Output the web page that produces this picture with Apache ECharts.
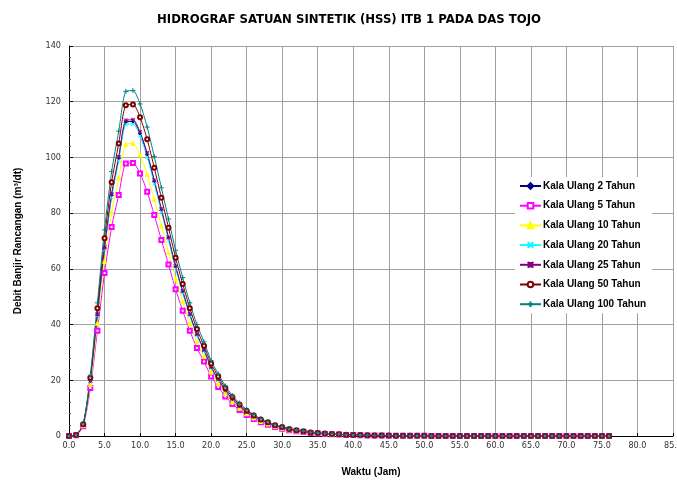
<!DOCTYPE html>
<html>
<head>
<meta charset="utf-8">
<script src="https://cdn.jsdelivr.net/npm/echarts@6/dist/echarts.min.js"></script>
<style>
  html, body { margin: 0; padding: 0; background: #fff; }
  #chart { width: 677px; height: 480px; }
</style>
</head>
<body>
<div id="chart"></div>
<script>
// waktu (jam)
const times = [0, 1, 2, 3, 4, 5, 6, 7, 8, 9, 10, 11, 12, 13, 14, 15, 16, 17, 18, 19,
  20, 21, 22, 23, 24, 25, 26, 27, 28, 29, 30, 31, 32, 33, 34, 35, 36, 37, 38, 39,
  40, 41, 42, 43, 44, 45, 46, 47, 48, 49, 50, 51, 52, 53, 54, 55, 56, 57, 58, 59,
  60, 61, 62, 63, 64, 65, 66, 67, 68, 69, 70, 71, 72, 73, 74, 75, 76]

// ekor hidrograf (jam 50 - 76), hampir nol
const tail = [0.05, 0.04, 0.04, 0.03, 0.03, 0.03, 0.02, 0.02, 0.02, 0.02, 0.01, 0.01, 0.01, 0.01,
  0.01, 0.01, 0.01, 0, 0, 0, 0, 0, 0, 0, 0, 0, 0]

const q2 = [0, 0.35, 4.0, 19.8, 43.5, 67.4, 86.4, 99.6, 112.7, 112.9,
  108.5, 101.0, 91.4, 81.1, 71.0, 60.7, 51.8, 43.5, 36.4, 30.8,
  24.7, 20.3, 16.4, 13.2, 10.7, 8.6, 7.0, 5.6, 4.6, 3.7,
  3.0, 2.4, 2.0, 1.6, 1.3, 1.0, 0.86, 0.69, 0.58, 0.46,
  0.38, 0.31, 0.25, 0.21, 0.17, 0.14, 0.12, 0.09, 0.08, 0.06].concat(tail)

const q5 = [0, 0.3, 3.5, 17.2, 37.8, 58.5, 75.0, 86.5, 97.8, 98.0,
  94.2, 87.7, 79.3, 70.4, 61.6, 52.7, 45.0, 37.8, 31.6, 26.7,
  21.4, 17.6, 14.2, 11.5, 9.3, 7.5, 6.1, 4.9, 4.0, 3.2,
  2.6, 2.1, 1.7, 1.4, 1.1, 0.9, 0.75, 0.6, 0.5, 0.4,
  0.33, 0.27, 0.22, 0.18, 0.15, 0.12, 0.1, 0.08, 0.07, 0.05].concat(tail)

const q10 = [0, 0.32, 3.7, 18.4, 40.5, 62.7, 80.3, 92.6, 104.7, 105.0,
  100.9, 93.9, 84.9, 75.4, 66.0, 56.4, 48.2, 40.5, 33.8, 28.6,
  22.9, 18.8, 15.2, 12.3, 10.0, 8.0, 6.5, 5.2, 4.3, 3.4,
  2.8, 2.2, 1.8, 1.5, 1.2, 0.96, 0.8, 0.64, 0.54, 0.43,
  0.35, 0.29, 0.24, 0.19, 0.16, 0.13, 0.11, 0.09, 0.07, 0.05].concat(tail)

const q20 = [0, 0.34, 4.0, 19.7, 43.2, 66.9, 85.7, 98.9, 111.8, 112.0,
  107.7, 100.2, 90.6, 80.5, 70.4, 60.2, 51.4, 43.2, 36.1, 30.5,
  24.5, 20.1, 16.2, 13.1, 10.6, 8.6, 7.0, 5.6, 4.6, 3.7,
  3.0, 2.4, 1.9, 1.6, 1.3, 1.0, 0.86, 0.69, 0.57, 0.46,
  0.38, 0.31, 0.25, 0.21, 0.17, 0.14, 0.11, 0.09, 0.08, 0.06].concat(tail)

const q25 = [0, 0.35, 4.1, 19.9, 43.8, 67.7, 86.9, 100.2, 113.3, 113.5,
  109.1, 101.6, 91.8, 81.5, 71.3, 61.0, 52.1, 43.8, 36.6, 30.9,
  24.8, 20.4, 16.4, 13.3, 10.8, 8.7, 7.1, 5.7, 4.6, 3.7,
  3.0, 2.4, 2.0, 1.6, 1.3, 1.0, 0.87, 0.69, 0.58, 0.46,
  0.38, 0.31, 0.25, 0.21, 0.17, 0.14, 0.12, 0.09, 0.08, 0.06].concat(tail)

const q50 = [0, 0.4, 4.2, 20.9, 45.9, 71.0, 91.1, 105.0, 118.7, 119.0,
  114.4, 106.5, 96.3, 85.5, 74.8, 64.0, 54.6, 45.9, 38.4, 32.4,
  26.0, 21.4, 17.2, 14.0, 11.3, 9.1, 7.4, 5.9, 4.9, 3.9,
  3.2, 2.5, 2.1, 1.7, 1.3, 1.1, 0.91, 0.73, 0.61, 0.49,
  0.4, 0.33, 0.27, 0.22, 0.18, 0.15, 0.12, 0.1, 0.08, 0.06].concat(tail)

const q100 = [0, 0.4, 4.4, 21.8, 47.8, 74.0, 94.9, 109.4, 123.7, 124.0,
  119.2, 110.9, 100.3, 89.1, 77.9, 66.7, 56.9, 47.8, 40.0, 33.8,
  27.1, 22.3, 18.0, 14.5, 11.8, 9.5, 7.7, 6.2, 5.1, 4.0,
  3.3, 2.7, 2.2, 1.8, 1.4, 1.1, 0.95, 0.76, 0.63, 0.51,
  0.42, 0.34, 0.28, 0.23, 0.19, 0.15, 0.13, 0.1, 0.09, 0.06].concat(tail)

const names = ['Kala Ulang 2 Tahun', 'Kala Ulang 5 Tahun', 'Kala Ulang 10 Tahun',
  'Kala Ulang 20 Tahun', 'Kala Ulang 25 Tahun', 'Kala Ulang 50 Tahun', 'Kala Ulang 100 Tahun']
const values = [q2, q5, q10, q20, q25, q50, q100]
const colors = ['#000080', '#ff00ff', '#ffff00', '#00ffff', '#800080', '#800000', '#008080']
const symbols = [
  'diamond',
  'emptyRect',
  'triangle',
  'path://M0,0L10,10M10,0L0,10',
  'path://M5,0L5,10M0,0L10,10M10,0L0,10M0,5L10,5',
  'emptyCircle',
  'path://M5,0L5,10M0,5L10,5'
]
const sizes = [3, 4, 4, 4, 4, 4, 5]

const narrow = "'DejaVu Sans Condensed', 'Liberation Sans Narrow', 'Liberation Sans', Arial, sans-serif"

const chart = echarts.init(document.getElementById('chart'))

chart.setOption({
  animation: false,
  title: {
    text: 'HIDROGRAF SATUAN SINTETIK (HSS) ITB 1 PADA DAS TOJO',
    left: 344,
    textAlign: 'center',
    top: 8,
    textStyle: {fontFamily: narrow, fontWeight: 'bold', fontSize: 13, color: '#000'}
  },
  legend: {
    orient: 'vertical',
    left: 515,
    top: 177,
    width: 132,
    backgroundColor: '#fff',
    padding: [3, 6, 3, 4],
    itemWidth: 21,
    itemHeight: 7,
    itemGap: 7.7,
    textStyle: {fontFamily: 'Arial, "Liberation Sans", sans-serif', fontWeight: 'bold', fontSize: 10,
      lineHeight: 12, color: '#000', padding: [0, 0, 0, -3]},
    data: names
  },
  grid: {left: 69, right: 4, top: 46, bottom: 44, outerBoundsMode: 'none'},
  xAxis: {
    type: 'value',
    min: 0,
    max: 85,
    interval: 5,
    name: 'Waktu (Jam)',
    nameLocation: 'middle',
    nameGap: 31,
    nameTextStyle: {fontFamily: 'Arial, sans-serif', fontWeight: 'bold', fontSize: 10, color: '#000'},
    axisLine: {show: true, onZero: false, lineStyle: {color: '#000', width: 1}},
    axisTick: {show: true, inside: true, length: 3, lineStyle: {color: '#000'}},
    axisLabel: {fontFamily: narrow, fontSize: 9, color: '#333', margin: 5,
      formatter: v => v.toFixed(1)},
    splitLine: {show: true, lineStyle: {color: '#a0a0a0', width: 1}}
  },
  yAxis: {
    type: 'value',
    min: 0,
    max: 140,
    interval: 20,
    name: 'Debit Banjir Rancangan (m³/dt)',
    nameLocation: 'middle',
    nameGap: 46,
    nameTextStyle: {fontFamily: 'Arial, sans-serif', fontWeight: 'bold', fontSize: 10, color: '#000'},
    axisLine: {show: true, lineStyle: {color: '#000', width: 1}},
    axisTick: {show: true, inside: true, length: 4, lineStyle: {color: '#000'}},
    minorTick: {show: true, splitNumber: 5, length: 2, lineStyle: {color: '#555'}},
    axisLabel: {fontFamily: narrow, fontSize: 9, color: '#333', margin: 8},
    splitLine: {show: true, lineStyle: {color: '#a0a0a0', width: 1}}
  },
  series: names.map((n, k) => ({
    name: n,
    type: 'line',
    smooth: 0.25,
    symbol: symbols[k],
    symbolSize: sizes[k],
    showAllSymbol: true,
    lineStyle: {color: colors[k], width: 1},
    itemStyle: {color: colors[k], borderColor: colors[k], borderWidth: 1},
    emphasis: {disabled: true},
    data: values[k].map((v, i) => [times[i], v])
  }))
})
</script>
</body>
</html>
